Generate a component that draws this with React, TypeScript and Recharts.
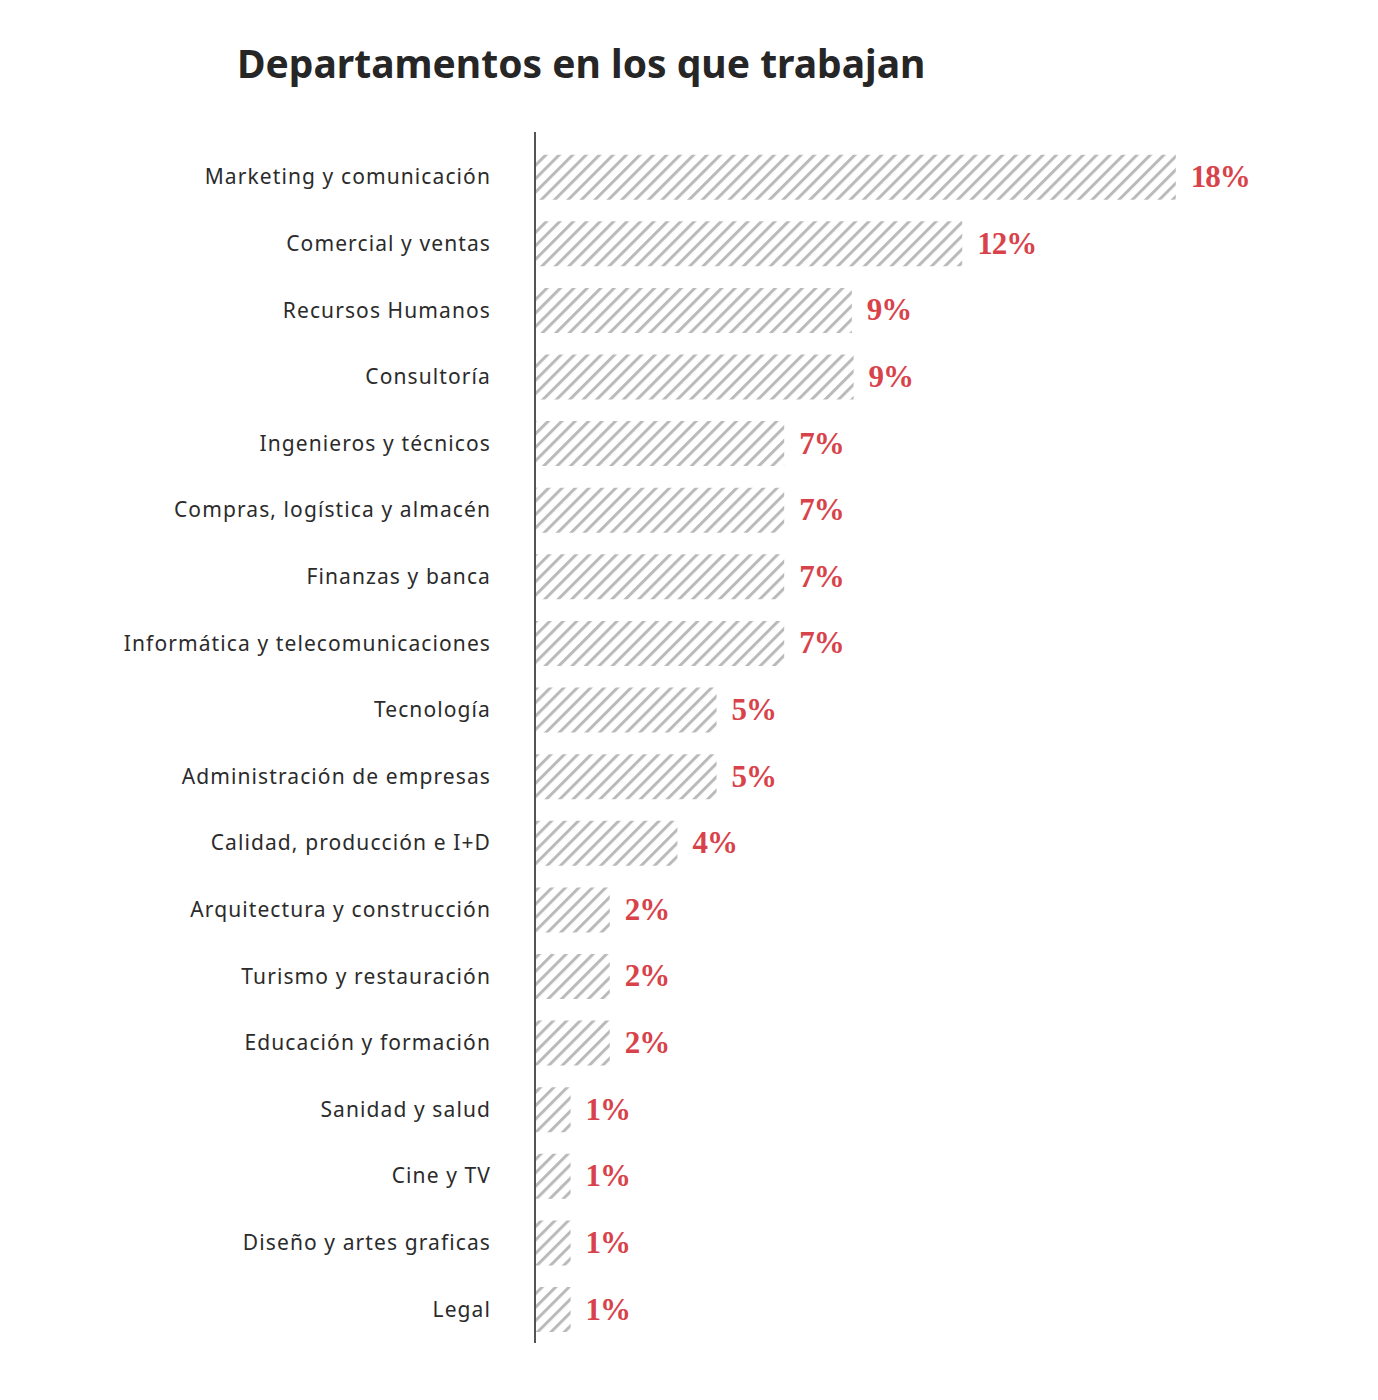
import React from 'react';
import { BarChart, Bar, XAxis, YAxis, LabelList } from 'recharts';

const departments = [
  'Marketing y comunicación',
  'Comercial y ventas',
  'Recursos Humanos',
  'Consultoría',
  'Ingenieros y técnicos',
  'Compras, logística y almacén',
  'Finanzas y banca',
  'Informática y telecomunicaciones',
  'Tecnología',
  'Administración de empresas',
  'Calidad, producción e I+D',
  'Arquitectura y construcción',
  'Turismo y restauración',
  'Educación y formación',
  'Sanidad y salud',
  'Cine y TV',
  'Diseño y artes graficas',
  'Legal'
];

// bar lengths
const shares = [18, 12, 8.9, 8.95, 7, 7, 7, 7, 5.1, 5.1, 4, 2.1, 2.1, 2.1, 1, 1, 1, 1];

// printed labels
const shareLabels = ['18%', '12%', '9%', '9%', '7%', '7%', '7%', '7%', '5%', '5%', '4%', '2%', '2%', '2%', '1%', '1%', '1%', '1%'];

const data = departments.map((name, i) => ({
  name,
  value: shares[i],
  label: shareLabels[i]
}));

const CategoryTick: React.FC<any> = ({ x, y, payload }) => (
  <text
    x={x - 36}
    y={y}
    dy={7}
    textAnchor="end"
    fontFamily="'Noto Sans', sans-serif"
    fontSize={21}
    letterSpacing={1.1}
    fill="#2b2b2b">
    {payload.value}
  </text>
);

const ValueLabel: React.FC<any> = ({ x, y, width, height, index }) => (
  <text
    x={x + width + 15}
    y={y + height / 2}
    dy={10}
    fontFamily="'Liberation Serif', serif"
    fontWeight={700}
    fontSize={31}
    letterSpacing={-1}
    fill="#d8434b">
    {shareLabels[index]}
  </text>
);

export default function App() {
  return (
    <div style={{ position: 'absolute', left: 0, top: 0, width: 1378, height: 1400, background: '#fff' }}>
      <div
        style={{
          position: 'absolute',
          left: 237,
          top: 36,
          fontFamily: "'Noto Sans', sans-serif",
          fontWeight: 700,
          fontSize: 39,
          color: '#262626',
          whiteSpace: 'nowrap'
        }}>
        Departamentos en los que trabajan
      </div>
      <BarChart
        width={1378}
        height={1400}
        data={data}
        layout="vertical"
        barCategoryGap="16%"
        margin={{ top: 132, right: 131, bottom: 57, left: 0 }}>
        <defs>
          <pattern
            id="hatch"
            width="9.5"
            height="9.5"
            patternUnits="userSpaceOnUse"
            patternTransform="rotate(45)">
            <rect width="9.5" height="9.5" fill="#fff" />
            <line x1="1.5" y1="0" x2="1.5" y2="9.5" stroke="#bababa" strokeWidth="3" />
          </pattern>
        </defs>
        <XAxis type="number" domain={[0, 20]} hide />
        <YAxis
          type="category"
          dataKey="name"
          width={535}
          padding={{ top: 12, bottom: 0 }}
          tickLine={false}
          axisLine={{ stroke: '#555', strokeWidth: 2 }}
          tick={<CategoryTick />}
          interval={0}
        />
        <Bar dataKey="value" fill="url(#hatch)" isAnimationActive={false}>
          <LabelList dataKey="label" content={<ValueLabel />} />
        </Bar>
      </BarChart>
    </div>
  );
}
